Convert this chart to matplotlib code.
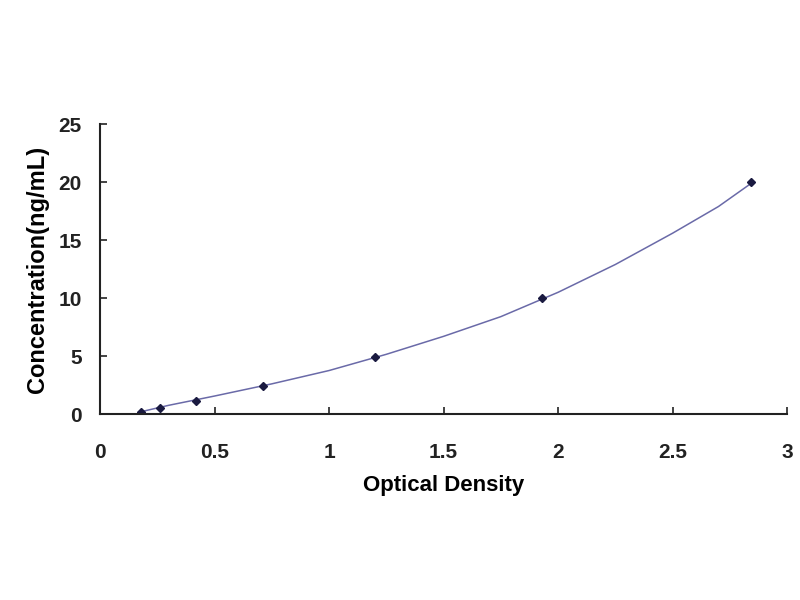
import matplotlib.pyplot as plt

# standard points
od = [0.18, 0.26, 0.42, 0.71, 1.20, 1.93, 2.84]
conc = [0.2, 0.55, 1.15, 2.4, 4.9, 10.0, 20.0]

# fitted curve
curve_od = [0.18, 0.3, 0.5, 0.75, 1.0, 1.25, 1.5, 1.75, 2.0, 2.25, 2.5, 2.7, 2.85]
curve_conc = [0.2, 0.75, 1.55, 2.6, 3.75, 5.15, 6.7, 8.4, 10.5, 12.9, 15.6, 17.9, 20.0]

plt.rcParams['font.family'] = ['Liberation Sans', 'DejaVu Sans']

fig = plt.figure(figsize=(8, 6), dpi=100)
ax = fig.add_axes([0.125, 0.31, 0.859, 0.483])

ax.plot(curve_od, curve_conc, color='#6a6aa8', lw=1.1)
ax.plot(od, conc, 'D', color='#1a1a40', ms=4, ls='none')

ax.set_xlim(0, 3)
ax.set_ylim(0, 25)
ax.set_xticks([0, 0.5, 1, 1.5, 2, 2.5, 3])
ax.set_xticklabels(['0', '0.5', '1', '1.5', '2', '2.5', '3'])
ax.set_yticks([0, 5, 10, 15, 20, 25])

for s in ['top', 'right']:
    ax.spines[s].set_visible(False)
for s in ['left', 'bottom']:
    ax.spines[s].set_linewidth(1.5)
    ax.spines[s].set_color('#222222')

ax.tick_params(direction='in', length=5, width=1.2, labelsize=15, colors='#222222')
ax.tick_params(axis='x', pad=21)
ax.tick_params(axis='y', pad=13)
for lab in ax.get_xticklabels() + ax.get_yticklabels():
    lab.set_fontweight('bold')

ax.set_xlabel('Optical Density', fontsize=16, fontweight='bold', labelpad=9)
ax.set_ylabel('Concentration(ng/mL)', fontsize=17, fontweight='bold', labelpad=7)

fig.savefig('out.png', dpi=100)
